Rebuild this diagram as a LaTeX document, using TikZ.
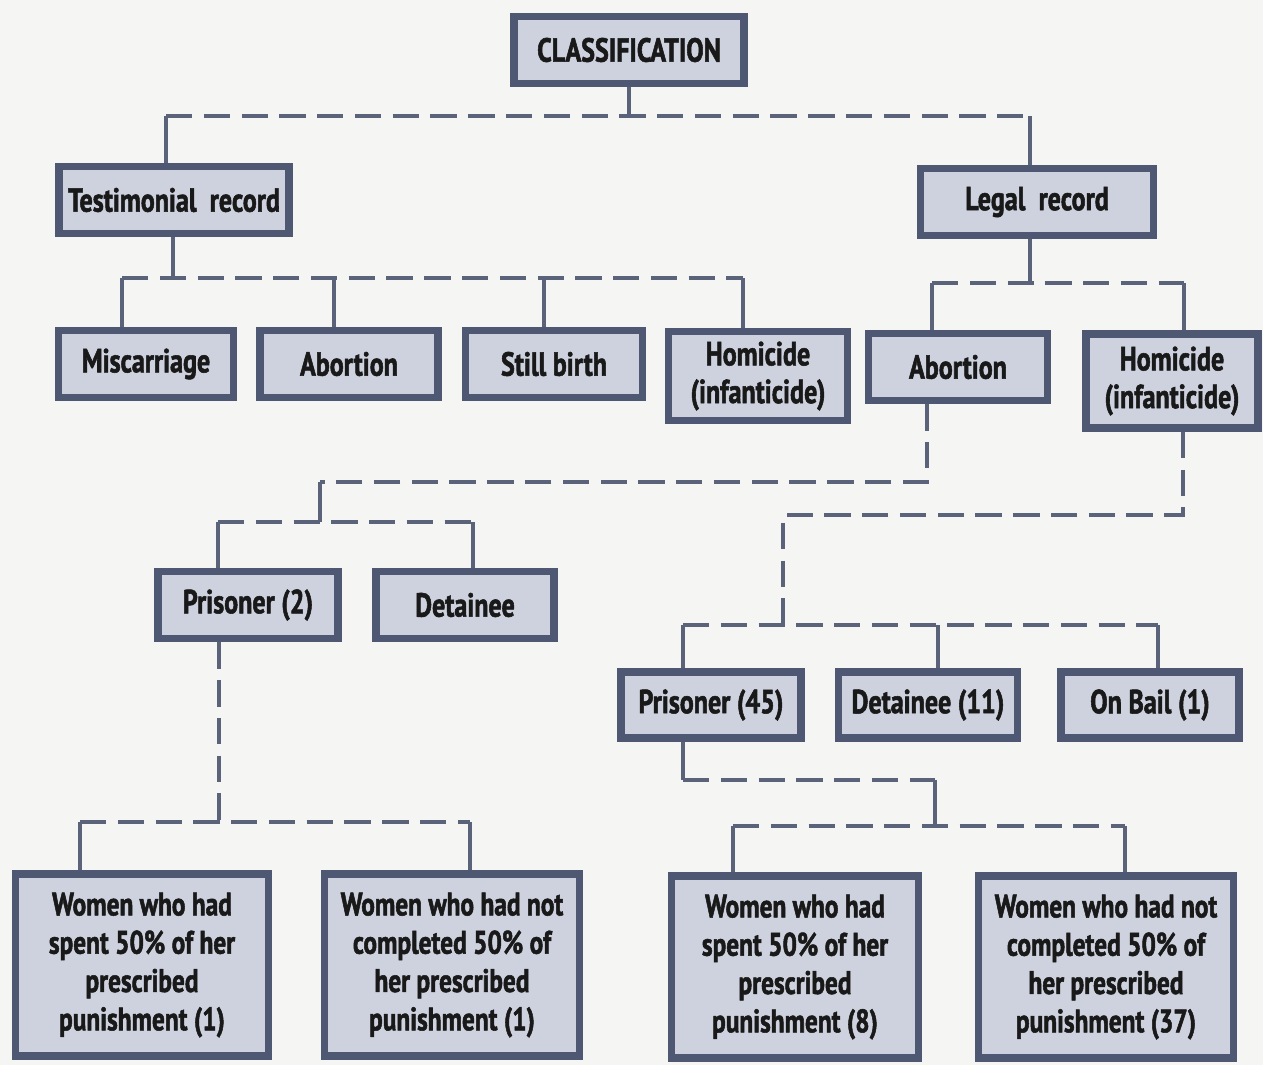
\documentclass[tikz,border=0pt]{standalone}
\usepackage{fontspec}
\setmainfont{PT Sans}[FakeStretch=0.78, BoldFeatures={FakeBold=1.6}]
\usetikzlibrary{calc, positioning}

\definecolor{boxfill}{HTML}{CDD2DE}
\definecolor{boxline}{HTML}{4E5873}
\definecolor{linkcol}{HTML}{5A6379}
\definecolor{paper}{HTML}{F5F5F4}

\tikzset{
  box/.style={draw=boxline, line width=4.4pt, fill=boxfill, align=center,
    inner sep=0pt, text=black!90, font=\fontsize{19}{21.5}\selectfont\bfseries},
  wbox/.style={box, font=\fontsize{18.5}{21.8}\selectfont\bfseries},
  stub/.style={draw=linkcol, line width=2pt},
  bus/.style={stub, dash pattern=on 15pt off 6.5pt},
}

\begin{document}
\begin{tikzpicture}[x=0.02cm,y=-0.02cm]
\useasboundingbox (0,0) rectangle (1263,1065);
\fill[paper] (0,0) rectangle (1263,1065);

% Top levels
\node[box, minimum width=4.60cm, minimum height=1.34cm] (class) at (629,50) {CLASSIFICATION};
\node[box, minimum width=4.60cm, minimum height=1.34cm] (testi) at (174,200) {Testimonial\ \ record};
\node[box, minimum width=4.66cm, minimum height=1.34cm] (legal) at (1037,202) {Legal\ \ record};

% Kinds of case
\node[box, minimum width=3.50cm, minimum height=1.34cm] (misc) at (146,364) {Miscarriage};
\node[box, minimum width=3.56cm, minimum height=1.34cm] (abortA) at (349,364) {Abortion};
\node[box, minimum width=3.54cm, minimum height=1.34cm] (still) at (554,364) {Still birth};
\node[box, minimum width=3.58cm, minimum height=1.78cm] (homiA) at (758,376) {Homicide\\(infanticide)};
\node[box, minimum width=3.58cm, minimum height=1.34cm] (abortB) at (958,367) {Abortion};
\node[box, minimum width=3.44cm, minimum height=1.88cm] (homiB) at (1172,381) {Homicide\\(infanticide)};

% Legal status
\node[box, minimum width=3.60cm, minimum height=1.34cm] (prisA) at (248,605) {Prisoner (2)};
\node[box, minimum width=3.56cm, minimum height=1.34cm] (detA) at (465,605) {Detainee};
\node[box, minimum width=3.60cm, minimum height=1.32cm] (prisB) at (711,705) {Prisoner (45)};
\node[box, minimum width=3.58cm, minimum height=1.32cm] (detB) at (928,705) {Detainee (11)};
\node[box, minimum width=3.56cm, minimum height=1.32cm] (bail) at (1150,705) {On Bail (1)};

% Time served
\node[wbox, minimum width=5.06cm, minimum height=3.64cm] (womA) at (142,965) {Women who had\\spent 50\% of her\\prescribed\\punishment (1)};
\node[wbox, minimum width=5.10cm, minimum height=3.64cm] (womB) at (452,965) {Women who had not\\completed 50\% of\\her prescribed\\punishment (1)};
\node[wbox, minimum width=4.94cm, minimum height=3.64cm] (womC) at (795,967) {Women who had\\spent 50\% of her\\prescribed\\punishment (8)};
\node[wbox, minimum width=5.10cm, minimum height=3.64cm] (womD) at (1106,967) {Women who had not\\completed 50\% of\\her prescribed\\punishment (37)};

% Junctions
\coordinate (c0) at (629,116);
\coordinate (c1) at (166,116);
\coordinate (c2) at (1030,116);
\coordinate (t0) at (173,278);
\coordinate (t1) at (122,278);
\coordinate (t2) at (334,278);
\coordinate (t3) at (544,278);
\coordinate (t4) at (743,278);
\coordinate (l0) at (1030,283);
\coordinate (l1) at (932,283);
\coordinate (l2) at (1184,283);
\coordinate (a1) at (927,482);
\coordinate (a2) at (320,482);
\coordinate (a3) at (320,522);
\coordinate (p1) at (218,522);
\coordinate (p2) at (473,522);
\coordinate (h1) at (1183,515);
\coordinate (h2) at (783,515);
\coordinate (h3) at (783,625);
\coordinate (q1) at (683,625);
\coordinate (q2) at (938,625);
\coordinate (q3) at (1158,625);
\coordinate (r1) at (219,822);
\coordinate (r2) at (80,822);
\coordinate (r3) at (470,822);
\coordinate (s1) at (683,780);
\coordinate (s2) at (935,780);
\coordinate (s3) at (935,826);
\coordinate (s4) at (733,826);
\coordinate (s5) at (1125,826);

% Classification to records
\draw[stub] (class.south -| c0) -- (c0);
\draw[bus] (c1) -- (c2);
\draw[stub] (c1) -- (testi.north -| c1);
\draw[stub] (c2) -- (legal.north -| c2);

% Testimonial record
\draw[stub] (testi.south -| t0) -- (t0);
\draw[bus] (t1) -- (t4);
\foreach \c/\n in {t1/misc, t2/abortA, t3/still, t4/homiA}
  \draw[stub] (\c) -- (\n.north -| \c);

% Legal record
\draw[stub] (legal.south -| l0) -- (l0);
\draw[bus] (l1) -- (l2);
\draw[stub] (l1) -- (abortB.north -| l1);
\draw[stub] (l2) -- (homiB.north -| l2);

% Abortion cases
\draw[bus] (abortB.south -| a1) -- (a1) -- (a2);
\draw[stub] (a2) -- (a3);
\draw[bus] (p1) -- (p2);
\draw[stub] (p1) -- (prisA.north -| p1);
\draw[stub] (p2) -- (detA.north -| p2);

% Homicide cases
\draw[bus] (homiB.south -| h1) -- (h1) -- (h2) -- (h3);
\draw[bus] (q1) -- (q3);
\foreach \c/\n in {q1/prisB, q2/detB, q3/bail}
  \draw[stub] (\c) -- (\n.north -| \c);

% Prisoners by time served
\draw[bus] (prisA.south -| r1) -- (r1);
\draw[bus] (r2) -- (r3);
\draw[stub] (r2) -- (womA.north -| r2);
\draw[stub] (r3) -- (womB.north -| r3);
\draw[stub] (prisB.south -| s1) -- (s1);
\draw[bus] (s1) -- (s2);
\draw[stub] (s2) -- (s3);
\draw[bus] (s4) -- (s5);
\draw[stub] (s4) -- (womC.north -| s4);
\draw[stub] (s5) -- (womD.north -| s5);
\end{tikzpicture}
\end{document}
